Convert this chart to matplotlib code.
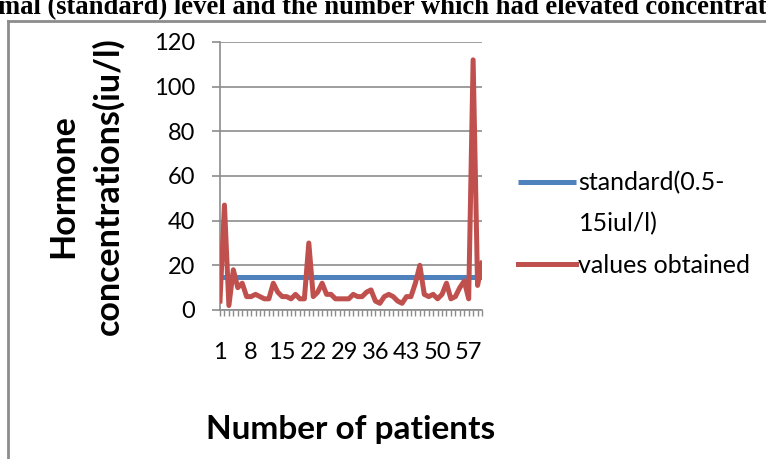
import matplotlib
matplotlib.use("Agg")
import matplotlib.pyplot as plt
from matplotlib.lines import Line2D
from matplotlib.ticker import FixedLocator, MultipleLocator

# ---- data ----
patients = list(range(1, 61))
standard = [15] * 60
values_obtained = [4, 47, 2, 18, 10, 12, 6, 6, 7, 6,
                   5, 5, 12, 8, 6, 6, 5, 7, 5, 5,
                   30, 6, 8, 12, 7, 7, 5, 5, 5, 5,
                   7, 6, 6, 8, 9, 4, 3, 6, 7, 6,
                   4, 3, 6, 6, 12, 20, 7, 6, 7, 5,
                   7, 12, 5, 6, 10, 13, 5, 112, 11, 21]
x_tick_labels = [1, 8, 15, 22, 29, 36, 43, 50, 57]
y_ticks = [0, 20, 40, 60, 80, 100, 120]

legend_lines = ["standard(0.5-", "15iul/l)", "values obtained"]
title_text = "mal (standard) level and the number which had elevated concentrat"

W, H = 766, 459
fig = plt.figure(figsize=(W / 100, H / 100), dpi=100)
plt.rcParams['font.family'] = ['Lato', 'DejaVu Sans']

ax = fig.add_axes([220 / W, 1 - 310 / H, (482 - 220) / W, (310 - 42) / H])

blue = "#4F81BD"
red = "#C0504D"
grid_c = "#8C8C8C"

l1, = ax.plot(patients, standard, color=blue, lw=3.6, solid_capstyle='butt', zorder=3)
l2, = ax.plot(patients, values_obtained, color=red, lw=3.6, solid_joinstyle='round', zorder=4)

ax.set_xlim(1, 60)
ax.set_ylim(0, 120)
ax.yaxis.set_major_locator(FixedLocator(y_ticks))
ax.xaxis.set_major_locator(FixedLocator(x_tick_labels))
ax.xaxis.set_minor_locator(MultipleLocator(1))
ax.set_xticklabels([str(v) for v in x_tick_labels])
ax.grid(axis='y', color=grid_c, lw=1.2, zorder=1)
for s in ['top', 'right']:
    ax.spines[s].set_visible(False)
ax.spines['left'].set_color(grid_c)
ax.spines['bottom'].set_color(grid_c)
ax.spines['left'].set_linewidth(1.2)
ax.spines['bottom'].set_linewidth(1.2)
ax.tick_params(axis='y', direction='out', length=6, width=1.2, color=grid_c,
               labelsize=17, pad=12)
ax.tick_params(axis='x', which='both', direction='out', length=4, width=1.0,
               color=grid_c, labelsize=17, pad=19)

# axis titles
fig.text(351 / W, 1 - 430 / H, "Number of patients", fontsize=24, fontweight='bold',
         ha='center', va='center')
fig.text(86 / W, 1 - 186 / H, "Hormone\nconcentrations(iu/l)", fontsize=24.5,
         fontweight='bold', rotation=90, ha='center', va='center', linespacing=1.45,
         multialignment='center')

# legend (second row continues the first entry's label)
blank = Line2D([], [], color='none')
leg = fig.legend([l1, blank, l2], legend_lines, loc='upper left',
                 bbox_to_anchor=(518 / W, 1 - 171 / H), frameon=False,
                 fontsize=18, handlelength=2.3, handletextpad=0.12,
                 labelspacing=0.72, borderpad=0.0, borderaxespad=0.0)

# clipped title from the page and chart border
fig.text(-2 / W, 1 - 14 / H, title_text, fontsize=19.2, fontweight='bold',
         family='Liberation Serif', ha='left', va='baseline')
fig.add_artist(Line2D([8 / W, 8 / W], [0, 1 - 21 / H], color="#8C8C8C", lw=2,
                      transform=fig.transFigure))
fig.add_artist(Line2D([8 / W, 1], [1 - 21 / H, 1 - 21 / H], color="#8C8C8C", lw=2,
                      transform=fig.transFigure))

fig.savefig("out.png", dpi=100)
